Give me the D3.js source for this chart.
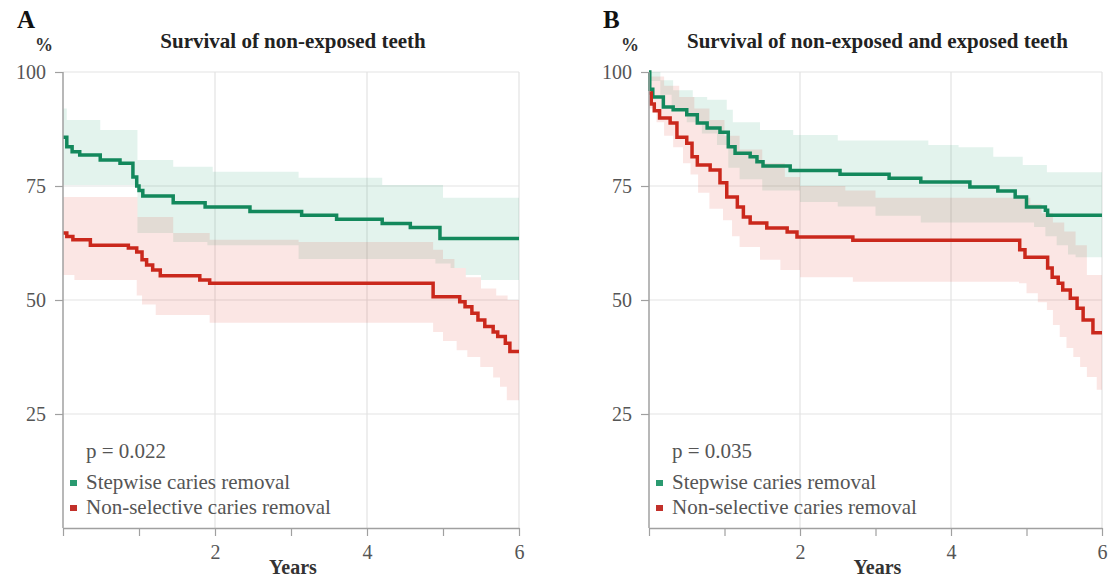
<!DOCTYPE html>
<html>
<head>
<meta charset="utf-8">
<script src="https://cdn.jsdelivr.net/npm/d3@7"></script>
<style>
  body { margin: 0; background: #fff; }
  svg text { font-family: "Liberation Serif", "DejaVu Serif", serif; }
</style>
</head>
<body>
<div id="chart-area"></div>
<script>
//DATA-----------------------------------------------------------------------
// [years, survival %] step points
const seriesNames = ["Stepwise caries removal", "Non-selective caries removal"]
const xLabelTicks = [2, 4, 6]
const xAllTicks = [0, 1, 2, 3, 4, 5, 6]
const yTicks = [25, 50, 75, 100]

// panel A - non-exposed teeth
const aStepwise = [[0,85.7],[0.05,83.6],[0.12,82.5],[0.22,81.8],[0.49,80.7],[0.75,80],[0.92,77],[0.97,75],[1.0,74],[1.05,72.8],[1.45,71.3],[1.87,70.4],[2.46,69.4],[3.14,68.6],[3.6,67.7],[4.2,66.8],[4.57,65.9],[4.96,63.5],[6,63.5]]
const aStepwiseHi = [[0,92],[0.05,89.5],[0.49,87.3],[0.98,80.7],[1.45,79.2],[1.97,78.1],[3.1,76.8],[4.2,75.2],[5.0,72.4],[6,72.4]]
const aStepwiseLo = [[0,75.2],[0.98,64.7],[1.45,62.7],[1.9,62],[3.1,59],[4.9,58],[5.1,57],[5.3,55.5],[5.5,54.4],[6,54.4]]
const aNonSel = [[0,64.7],[0.05,63.9],[0.13,63.2],[0.36,62],[0.86,61.4],[0.97,60.5],[1.04,58.8],[1.1,57.7],[1.18,56.6],[1.28,55.3],[1.8,54.4],[1.93,53.7],[4.87,50.7],[5.22,49.6],[5.29,48.5],[5.38,47.1],[5.46,45.6],[5.55,44.2],[5.66,43.0],[5.72,42],[5.82,40.5],[5.88,38.7],[6,38.7]]
const aNonSelHi = [[0,72.6],[0.98,68.2],[1.45,64.7],[1.93,63.2],[3.1,62.7],[4.87,61],[5.0,59],[5.15,57],[5.3,55],[5.5,52.5],[5.7,51],[5.85,50],[6,50]]
const aNonSelLo = [[0,55.5],[0.15,54.4],[0.97,51],[1.04,49],[1.22,46.7],[1.93,45],[4.87,43],[5.0,41],[5.18,39],[5.32,37.5],[5.49,35.3],[5.66,33],[5.75,31],[5.84,28],[6,28]]

// panel B - non-exposed and exposed teeth
const bStepwise = [[0,100],[0.01,96.2],[0.05,94.5],[0.19,92.3],[0.32,91.7],[0.5,90.6],[0.64,88.8],[0.77,87.7],[0.94,86.8],[1.05,83.6],[1.14,82.2],[1.34,81.4],[1.43,80.3],[1.51,79.4],[1.87,78.4],[2.53,77.6],[3.18,76.7],[3.6,75.9],[4.25,74.8],[4.62,73.9],[4.85,72.6],[5.0,70.4],[5.25,69.7],[5.28,68.6],[6,68.6]]
const bStepwiseHi = [[0,100],[0.15,98.2],[0.32,96],[0.58,94.5],[0.77,93.9],[1.03,91.7],[1.11,89],[1.47,87.3],[1.91,86.2],[2.5,85],[3.7,84],[4.1,83.5],[4.56,81.4],[4.95,79.6],[5.27,78],[6,78]]
const bStepwiseLo = [[0,98],[0.15,95],[0.3,92],[0.5,89],[0.7,86.5],[0.9,84],[1.05,79],[1.2,76.5],[1.5,74],[2.0,71.5],[2.5,70.5],[3.0,68.5],[3.6,67],[4.9,67],[5.1,66],[5.25,64],[5.4,62],[5.55,60],[5.65,59.4],[6,59.4]]
const bNonSel = [[0,95.4],[0.03,93],[0.07,91.5],[0.14,89.9],[0.28,88.8],[0.37,85.7],[0.5,84.4],[0.57,81.4],[0.64,79.6],[0.81,78.5],[0.94,75.7],[1.03,72.6],[1.17,70.4],[1.25,68.2],[1.34,66.9],[1.56,65.8],[1.83,64.9],[1.96,63.8],[2.7,63.1],[4.91,61],[4.98,59.4],[5.28,57],[5.34,55],[5.42,53.7],[5.48,52.2],[5.58,50.4],[5.67,48.2],[5.75,45.6],[5.88,42.8],[6,42.8]]
const bNonSelHi = [[0,99],[0.2,97],[0.4,94.5],[0.6,92],[0.8,89.5],[1.0,86],[1.2,83],[1.5,80],[1.8,77],[2.0,75],[2.6,74],[3.0,72.4],[4.9,72.4],[5.05,71],[5.2,69],[5.35,67],[5.5,65],[5.65,62],[5.8,55.5],[6,55]]
const bNonSelLo = [[0,92],[0.1,89],[0.2,86],[0.32,83.5],[0.45,80],[0.55,77.5],[0.65,73.5],[0.8,70],[0.98,67.5],[1.1,64],[1.2,61.6],[1.47,58.8],[1.74,56.6],[2.0,55],[2.7,54],[4.9,53.7],[5.0,51.5],[5.15,49.5],[5.27,47.8],[5.35,44.5],[5.44,41.9],[5.53,39.5],[5.62,37.5],[5.71,35.3],[5.8,33.1],[5.93,30.3],[6,30.3]]

//STYLE----------------------------------------------------------------------
const GREEN = "#13885c", RED = "#ca281c"
const GREEN_BAND = "#19996b", RED_BAND = "#e0301e"
const GRID = "#e3e3e3", AXIS = "#a0a0a0", TEXT = "#555"

const svg = d3.select("#chart-area").append("svg")
  .attr("width", 1108).attr("height", 579)

const panels = [
  { letter: "A", title: "Survival of non-exposed teeth", p: "p = 0.022", left: 63, right: 519,
    green: aStepwise, greenHi: aStepwiseHi, greenLo: aStepwiseLo,
    red: aNonSel, redHi: aNonSelHi, redLo: aNonSelLo },
  { letter: "B", title: "Survival of non-exposed and exposed teeth", p: "p = 0.035", left: 649, right: 1102,
    green: bStepwise, greenHi: bStepwiseHi, greenLo: bStepwiseLo,
    red: bNonSel, redHi: bNonSelHi, redLo: bNonSelLo }
]

const TOP = 72, BOTTOM = 528

// value of a step series at time t
function stepAt(arr, t) {
  const i = d3.bisector(d => d[0]).right(arr, t) - 1
  return arr[Math.max(0, i)][1]
}

panels.forEach(drawPanel)

function drawPanel(cfg) {
  const x = d3.scaleLinear().domain([0, 6]).range([cfg.left, cfg.right])
  const y = d3.scaleLinear().domain([0, 100]).range([BOTTOM, TOP])
  const g = svg.append("g")

  //GRID
  g.selectAll(".hgrid").data(yTicks).enter().append("line")
    .attr("x1", x(0)).attr("x2", x(6))
    .attr("y1", d => y(d)).attr("y2", d => y(d))
    .attr("stroke", GRID).attr("stroke-width", 1.2)
  g.selectAll(".vgrid").data(xLabelTicks).enter().append("line")
    .attr("x1", d => x(d)).attr("x2", d => x(d))
    .attr("y1", y(100)).attr("y2", y(0))
    .attr("stroke", GRID).attr("stroke-width", 1.2)

  //BANDS
  function band(hi, lo, color) {
    const times = Array.from(new Set(hi.map(d => d[0]).concat(lo.map(d => d[0])))).sort((a, b) => a - b)
    const area = d3.area().curve(d3.curveStepAfter)
      .x(t => x(t)).y0(t => y(stepAt(lo, t))).y1(t => y(stepAt(hi, t)))
    g.append("path").datum(times).attr("d", area)
      .attr("fill", color).attr("fill-opacity", 0.12)
  }
  band(cfg.greenHi, cfg.greenLo, GREEN_BAND)
  band(cfg.redHi, cfg.redLo, RED_BAND)

  //LINES
  const line = d3.line().curve(d3.curveStepAfter).x(d => x(d[0])).y(d => y(d[1]))
  g.append("path").datum(cfg.green).attr("d", line)
    .attr("fill", "none").attr("stroke", GREEN).attr("stroke-width", 3.5)
  g.append("path").datum(cfg.red).attr("d", line)
    .attr("fill", "none").attr("stroke", RED).attr("stroke-width", 3.5)

  //AXES
  const yAxis = d3.axisLeft(y).tickValues(yTicks).tickSize(8).tickSizeOuter(0).tickPadding(9)
  const gy = g.append("g").attr("transform", `translate(${x(0)},0)`).call(yAxis)
  const xAxis = d3.axisBottom(x).tickValues(xAllTicks).tickSize(8).tickSizeOuter(0).tickPadding(9)
    .tickFormat(d => xLabelTicks.includes(d) ? d : "")
  const gx = g.append("g").attr("transform", `translate(0,${y(0)})`).call(xAxis)
  ;[gx, gy].forEach(a => {
    a.select(".domain").attr("stroke", AXIS).attr("stroke-width", 1.5)
    a.selectAll(".tick line").attr("stroke", AXIS).attr("stroke-width", 1.2)
    a.selectAll("text").attr("fill", TEXT).style("font-size", "20px")
      .style("font-family", "Liberation Serif")
  })
  gy.select(".domain").attr("d", `M0,${y(0)}V${y(100)}`)

  //TITLES
  g.append("text").attr("x", cfg.left - 46).attr("y", 28)
    .attr("font-weight", "bold").attr("font-size", 25).attr("fill", "#111").text(cfg.letter)
  g.append("text").attr("x", cfg.left - 10).attr("y", 51).attr("text-anchor", "end")
    .attr("font-weight", "bold").attr("font-size", 18).attr("fill", "#333").text("%")
  g.append("text").attr("x", (x(0) + x(6)) / 2 + 2).attr("y", 48).attr("text-anchor", "middle")
    .attr("font-weight", "bold").attr("font-size", 21).attr("fill", "#222").text(cfg.title)
  g.append("text").attr("x", (x(0) + x(6)) / 2 + 2).attr("y", 574).attr("text-anchor", "middle")
    .attr("font-weight", "bold").attr("font-size", 20).attr("fill", "#333").text("Years")

  //LEGEND
  g.append("text").attr("x", x(0) + 23).attr("y", 458)
    .attr("font-size", 21).attr("fill", TEXT).text(cfg.p)
  const leg = g.selectAll(".leg").data(seriesNames).enter().append("g")
    .attr("transform", (d, i) => `translate(${x(0) + 7},${483 + i * 25})`)
  leg.append("rect").attr("x", 0).attr("y", -3).attr("width", 7).attr("height", 6)
    .attr("fill", (d, i) => i === 0 ? "#2a9a70" : "#c2302a")
  leg.append("text").attr("x", 16).attr("y", 6)
    .attr("font-size", 21).attr("fill", TEXT).text(d => d)
}
</script>
</body>
</html>
